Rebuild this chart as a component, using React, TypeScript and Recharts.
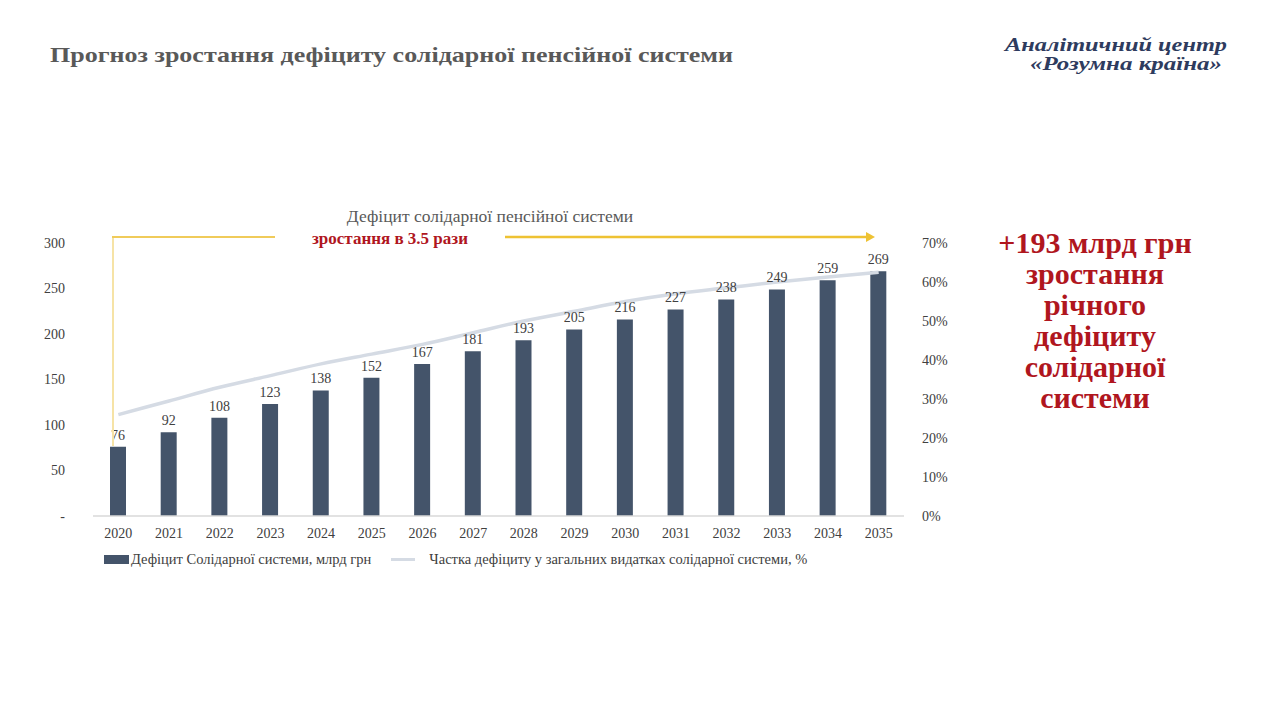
import React from 'react';
import { ComposedChart, Bar, Line, XAxis, YAxis, LabelList, Legend } from 'recharts';

const years = ['2020', '2021', '2022', '2023', '2024', '2025', '2026', '2027', '2028', '2029', '2030', '2031', '2032', '2033', '2034', '2035'];
const deficit = [76, 92, 108, 123, 138, 152, 167, 181, 193, 205, 216, 227, 238, 249, 259, 269];
const deficitShare = [0.26, 0.295, 0.33, 0.36, 0.39, 0.415, 0.44, 0.47, 0.5, 0.525, 0.55, 0.57, 0.585, 0.6, 0.613, 0.625];
const leftTicks = [0, 50, 100, 150, 200, 250, 300];
const rightTicks = [0, 0.1, 0.2, 0.3, 0.4, 0.5, 0.6, 0.7];
const sideNote = ['+193 млрд грн', 'зростання', 'річного', 'дефіциту', 'солідарної', 'системи'];

const data = years.map((year, i) => ({ year, deficit: deficit[i], share: deficitShare[i] }));

const SERIF = '"Liberation Serif", "DejaVu Serif", serif';
const BAR_COLOR = '#44546a';
const LINE_COLOR = '#d5dbe4';
const RED = '#b0161e';

const renderLegend = () => (
    <div style={{ display: 'flex', alignItems: 'center', fontFamily: SERIF, fontSize: 14.5, color: '#404040' }}>
        <span style={{ display: 'inline-block', width: 25, height: 9, background: BAR_COLOR, marginRight: 2 }} />
        <span>Дефіцит Солідарної системи, млрд грн</span>
        <span style={{ display: 'inline-block', width: 24, height: 3, background: LINE_COLOR, marginLeft: 20, marginRight: 14 }} />
        <span>Частка дефіциту у загальних видатках солідарної системи, %</span>
    </div>
);

const App: React.FC = () => {
    return (
        <div style={{ position: 'absolute', left: 0, top: 0, width: 1280, height: 708, background: '#fff', overflow: 'hidden' }}>
            <ComposedChart
                width={1280}
                height={708}
                data={data}
                margin={{ top: 243, right: 316, bottom: 145, left: 33 }}
                barCategoryGap={0}
            >
                <XAxis
                    dataKey="year"
                    axisLine={{ stroke: '#d9d9d9', strokeWidth: 1.5 }}
                    tickLine={false}
                    height={30}
                    tick={{ fill: '#404040', fontSize: 14, fontFamily: SERIF }}
                    tickMargin={6}
                />
                <YAxis
                    yAxisId="left"
                    domain={[0, 300]}
                    ticks={leftTicks}
                    width={60}
                    axisLine={false}
                    tickLine={false}
                    tickFormatter={(v: number) => (v === 0 ? '-' : String(v))}
                    tick={{ fill: '#404040', fontSize: 14, fontFamily: SERIF }}
                    tickMargin={22}
                />
                <YAxis
                    yAxisId="right"
                    orientation="right"
                    domain={[0, 0.7]}
                    ticks={rightTicks}
                    width={60}
                    axisLine={false}
                    tickLine={false}
                    tickFormatter={(v: number) => `${Math.round(v * 100)}%`}
                    tick={{ fill: '#404040', fontSize: 14, fontFamily: SERIF }}
                    tickMargin={12}
                />
                <Bar yAxisId="left" dataKey="deficit" fill={BAR_COLOR} barSize={16} isAnimationActive={false}>
                    <LabelList dataKey="deficit" position="top" offset={7} fill="#404040" fontSize={14} fontFamily={SERIF} />
                </Bar>
                <Line
                    yAxisId="right"
                    dataKey="share"
                    type="monotone"
                    stroke={LINE_COLOR}
                    strokeWidth={3.5}
                    dot={false}
                    isAnimationActive={false}
                />
                <Legend
                    content={renderLegend}
                    wrapperStyle={{ position: 'absolute', left: 104, top: 551, width: 760 }}
                />
            </ComposedChart>
            <svg width={1280} height={708} style={{ position: 'absolute', left: 0, top: 0, pointerEvents: 'none' }}>
                <text x={50} y={62} fontFamily={SERIF} fontWeight="bold" fontSize={21} fill="#595959" textLength={683} lengthAdjust="spacingAndGlyphs">
                    Прогноз зростання дефіциту солідарної пенсійної системи
                </text>
                <text x={1005} y={51} fontFamily={SERIF} fontWeight="bold" fontStyle="italic" fontSize={19} fill="#2e3b5e" textLength={222} lengthAdjust="spacingAndGlyphs">
                    Аналітичний центр
                </text>
                <text x={1030} y={70} fontFamily={SERIF} fontWeight="bold" fontStyle="italic" fontSize={19} fill="#2e3b5e" textLength={192} lengthAdjust="spacingAndGlyphs">
                    «Розумна країна»
                </text>
                <text x={490} y={222} textAnchor="middle" fontFamily={SERIF} fontSize={17.5} fill="#595959">
                    Дефіцит солідарної пенсійної системи
                </text>
                <text x={390} y={244} textAnchor="middle" fontFamily={SERIF} fontWeight="bold" fontSize={17} fill={RED}>
                    зростання в 3.5 рази
                </text>
                <line x1={113} y1={446} x2={113} y2={237} stroke="#f6e3a6" strokeWidth={2} />
                <line x1={112} y1={237} x2={275} y2={237} stroke="#f0cb5a" strokeWidth={2} />
                <line x1={505} y1={237} x2={866} y2={237} stroke="#eec233" strokeWidth={2.5} />
                <polygon points="866,232 875,237 866,242" fill="#eec233" />
                {sideNote.map((line, i) => (
                    <text
                        key={line}
                        x={1095}
                        y={253 + i * 31}
                        textAnchor="middle"
                        fontFamily={SERIF}
                        fontWeight="bold"
                        fontSize={30}
                        fill={RED}
                    >
                        {line}
                    </text>
                ))}
            </svg>
        </div>
    );
};

export default App;
